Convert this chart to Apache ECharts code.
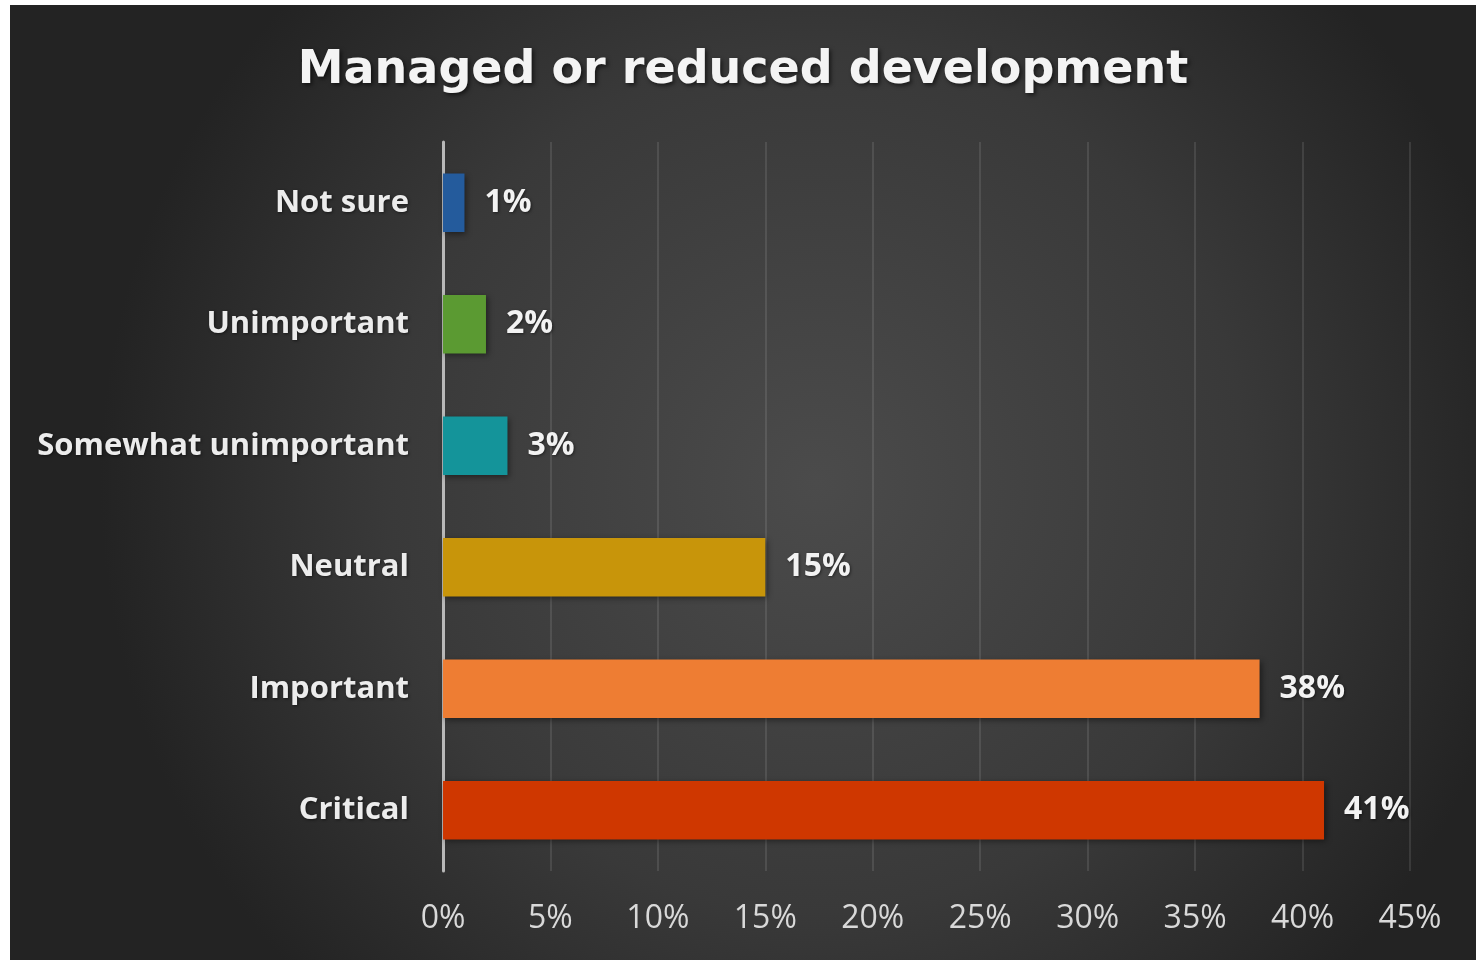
<!DOCTYPE html>
<html><head><meta charset="utf-8">
<script src="https://cdn.jsdelivr.net/npm/echarts@6/dist/echarts.min.js"></script>
<style>
html,body{margin:0;padding:0;background:#fff;width:1476px;height:960px;overflow:hidden}
#c{position:absolute;left:10px;top:5px;width:1466px;height:955px}
</style></head><body>
<div id="c"></div>
<script>
const categories = ["Not sure","Unimportant","Somewhat unimportant","Neutral","Important","Critical"];
const values = [1,2,3,15,38,41];
const barColors = ["#245b9c","#5b9a32","#14949a","#c8950a","#ee7d33","#cf3700"];
const xTicks = [0,5,10,15,20,25,30,35,40,45];

const chart = echarts.init(document.getElementById('c'), null, {renderer:'canvas'});
chart.setOption({
  backgroundColor: {
    type:'radial', x:0.55, y:0.5, r:0.75,
    colorStops:[{offset:0,color:'#4b4b4b'},{offset:0.6,color:'#393939'},{offset:1,color:'#232323'}]
  },
  title:{
    text:'Managed or reduced development',
    left:'center', top:38,
    textStyle:{color:'#f4f4f4', fontFamily:'DejaVu Sans', fontWeight:'bold', fontSize:46,
      textShadowColor:'rgba(0,0,0,0.6)', textShadowBlur:4, textShadowOffsetX:2, textShadowOffsetY:2}
  },
  grid:{left:433, right:66, top:137, bottom:89, containLabel:false},
  xAxis:{
    type:'value', min:0, max:45, interval:5,
    axisLine:{show:false}, axisTick:{show:false},
    splitLine:{show:true, lineStyle:{color:'rgba(255,255,255,0.1)', width:2}},
    axisLabel:{color:'#d9d9d9', fontFamily:'Open Sans', fontSize:32, margin:32,
      formatter:v=>v+'%'}
  },
  yAxis:{
    type:'category', data:categories, inverse:true,
    axisLine:{show:true, lineStyle:{color:'#b8b8b8', width:3}},
    axisTick:{show:false},
    axisLabel:{color:'#ececec', fontFamily:'Open Sans', fontWeight:'bold', fontSize:31, margin:34,
      textShadowColor:'rgba(0,0,0,0.5)', textShadowBlur:3, textShadowOffsetX:1, textShadowOffsetY:1}
  },
  series:[{
    type:'bar', barCategoryGap:'52%',
    data: values.map((v,i)=>({value:v, itemStyle:{color:barColors[i]}})),
    itemStyle:{shadowColor:'rgba(0,0,0,0.45)', shadowBlur:6, shadowOffsetX:2, shadowOffsetY:2},
    label:{show:true, position:'right', distance:20, formatter:p=>p.value+'%',
      color:'#f2f2f2', fontFamily:'Open Sans', fontWeight:'bold', fontSize:32,
      textShadowColor:'rgba(0,0,0,0.5)', textShadowBlur:3, textShadowOffsetX:1, textShadowOffsetY:1}
  }]
});
</script></body></html>
